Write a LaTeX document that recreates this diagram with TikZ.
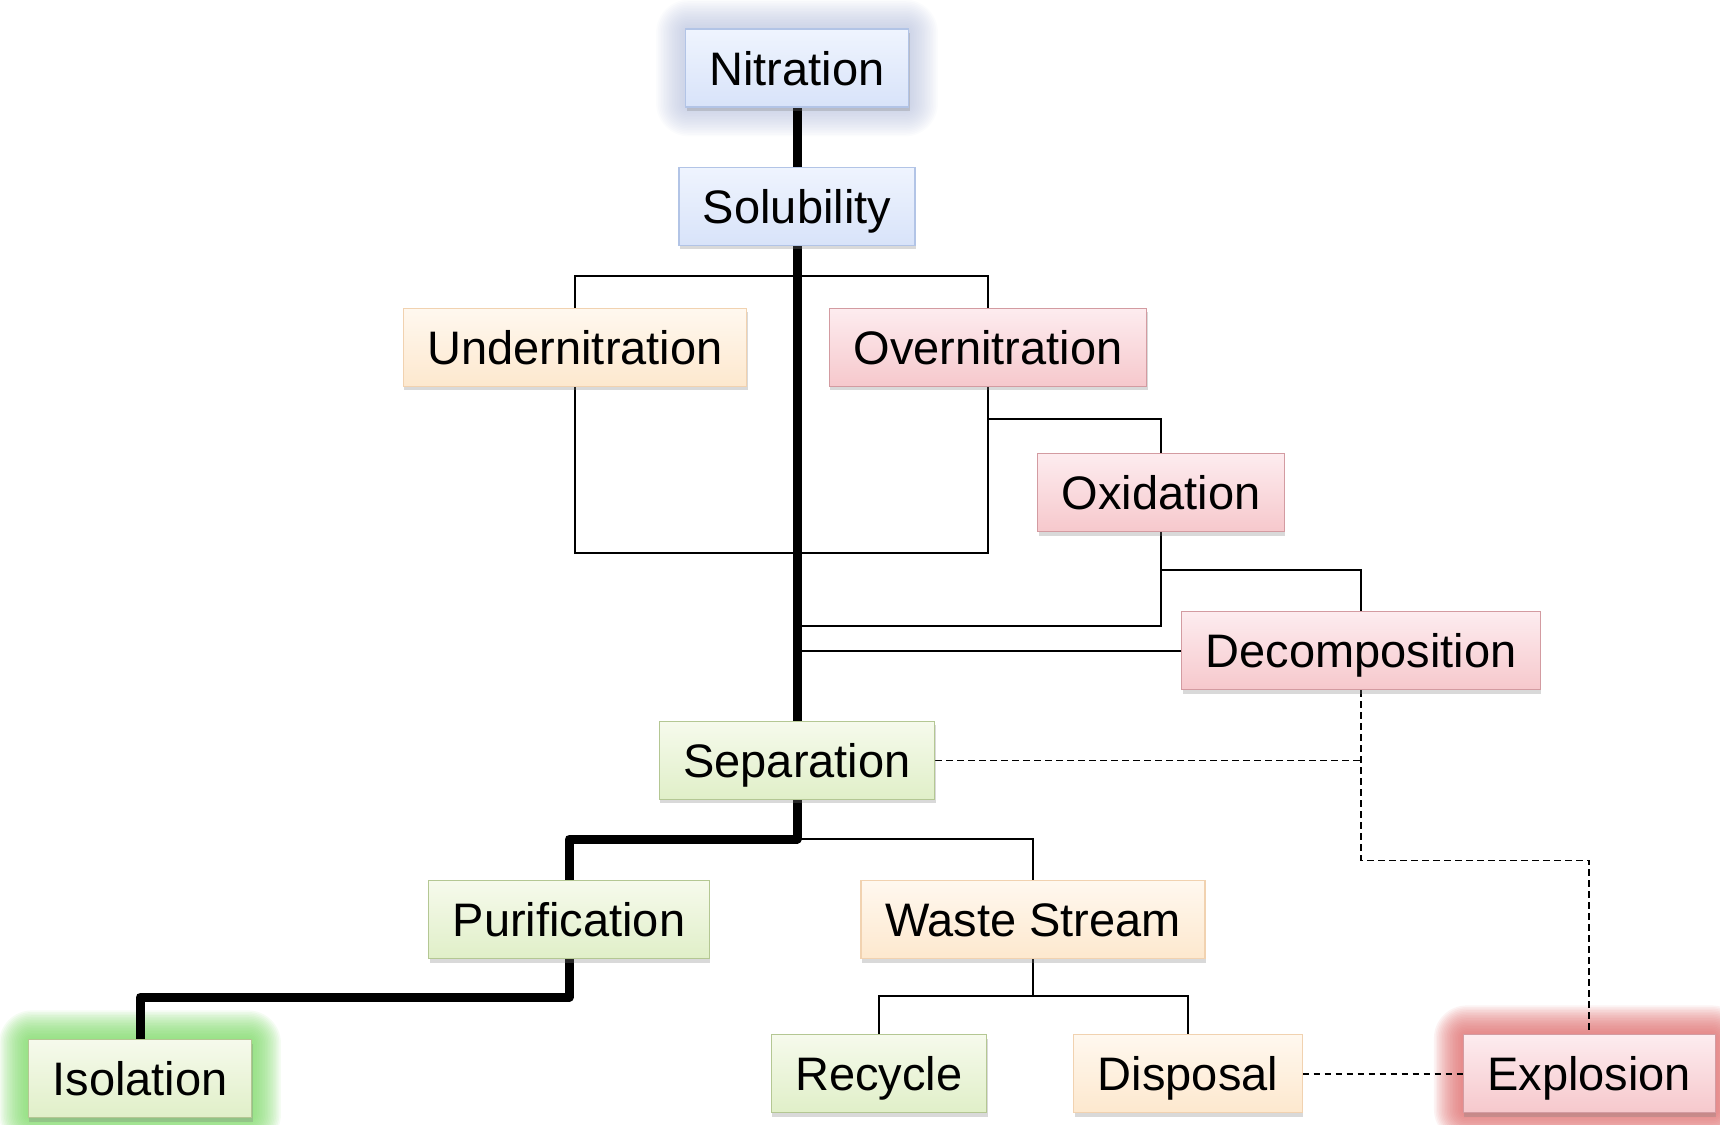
\documentclass[tikz,border=0pt]{standalone}
\usepackage{fontspec}
\setmainfont{Liberation Sans}
\usetikzlibrary{positioning,shadows}

\definecolor{bluetop}{HTML}{EFF4FE}
\definecolor{bluebot}{HTML}{D8E3F9}
\definecolor{blueline}{HTML}{B2C4E6}
\definecolor{orangetop}{HTML}{FFF8EF}
\definecolor{orangebot}{HTML}{FDE8CE}
\definecolor{orangeline}{HTML}{F1D2B0}
\definecolor{redtop}{HTML}{FDECEF}
\definecolor{redbot}{HTML}{F6C8CC}
\definecolor{redline}{HTML}{D39BA1}
\definecolor{greentop}{HTML}{F6FAEC}
\definecolor{greenbot}{HTML}{E0EFC8}
\definecolor{greenline}{HTML}{B4C793}
\definecolor{glowblue}{HTML}{A7B3D6}
\definecolor{glowgreen}{HTML}{7CD966}
\definecolor{glowred}{HTML}{DE6B6B}

\pgfdeclarelayer{background}
\pgfsetlayers{background,main}

\begin{document}
\begin{tikzpicture}[x=1pt, y=-1pt,
          box/.style={rectangle, draw, line width=1.2pt,
              font=\fontsize{47}{56}\selectfont, inner xsep=24pt, inner ysep=0pt,
              text height=34pt, text depth=0pt, minimum height=78pt,
              drop shadow={shadow xshift=1pt, shadow yshift=-4pt, opacity=0.3}},
          bluebox/.style={box, draw=blueline, top color=bluetop, bottom color=bluebot},
          orangebox/.style={box, draw=orangeline, top color=orangetop, bottom color=orangebot},
          redbox/.style={box, draw=redline, top color=redtop, bottom color=redbot},
          greenbox/.style={box, draw=greenline, top color=greentop, bottom color=greenbot},
          link/.style={line width=1.5pt, black},
          dashlink/.style={link, dash pattern=on 6.5pt off 4.5pt},
          mainpath/.style={line width=9pt, black, line join=round}
        ]
        \useasboundingbox (0,0) rectangle (1720,1124);
        \node[bluebox] (nit) at (797,68) {Nitration};
        \node[bluebox, below=59pt of nit] (sol) {Solubility};
        \node[orangebox, below=62pt of sol, xshift=-222pt] (under) {Undernitration};
        \node[redbox, below=62pt of sol, xshift=191pt] (over) {Overnitration};
        \node[redbox, below=66pt of over, xshift=173pt] (oxi) {Oxidation};
        \node[redbox, below=79pt of oxi, xshift=200pt] (decomp) {Decomposition};
        \node[greenbox, below=475pt of sol] (sep) {Separation};
        \node[greenbox, below=80pt of sep, xshift=-228pt] (pur) {Purification};
        \node[orangebox, below=80pt of sep, xshift=236pt] (waste) {Waste Stream};
        \node[greenbox, below=80pt of pur, xshift=-429pt] (iso) {Isolation};
        \node[greenbox, below=75pt of waste, xshift=-154pt] (rec) {Recycle};
        \node[orangebox, below=75pt of waste, xshift=155pt] (disp) {Disposal};
        \node[redbox, right=160pt of disp] (expl) {Explosion};
        \begin{pgfonlayer}{background}
          \foreach \n/\c/\o in {nit/glowblue/0.045, iso/glowgreen/0.08, expl/glowred/0.08}
            \foreach \i in {1,...,18}
              \fill[\c, opacity=\o, rounded corners={4pt+1.6pt*\i}]
                ([shift={({-1.6pt*\i},{-1.6pt*\i})}]\n.south west) rectangle
                ([shift={({1.6pt*\i},{1.6pt*\i})}]\n.north east);
          \draw[link] (under.north) -- ++(0,-32) -| (over.north);
          \draw[link] (under.south) -- ++(0,166) -| (over.south);
          \draw[link] ([yshift=-32pt]over.south) -| (oxi.north);
          \draw[link] (oxi.south) -- ++(0,94) coordinate (oxd) -- (oxd -| sol.south);
          \draw[link] ([yshift=-38pt]oxi.south) -| (decomp.north);
          \draw[link] (decomp.west) -- (decomp.west -| sol.south);
          \draw[link] ([yshift=-39pt]sep.south) -| (waste.north);
          \draw[link] (waste.south) -- ++(0,37) coordinate (wd);
          \draw[link] (rec.north) |- (wd) -| (disp.north);
          \draw[dashlink] (sep.east) -- (sep.east -| decomp.south);
          \draw[dashlink] (decomp.south) -- ++(0,170) -| (expl.north);
          \draw[dashlink] (disp.east) -- (expl.west);
          \draw[mainpath] (nit.south) -- (sol.north);
          \draw[mainpath] (sol.south) -- (sep.north);
          \draw[mainpath] (sep.south) -- ++(0,39) -| (pur.north);
          \draw[mainpath] (pur.south) -- ++(0,38) -| (iso.north);
        \end{pgfonlayer}
      \end{tikzpicture}
\end{document}
